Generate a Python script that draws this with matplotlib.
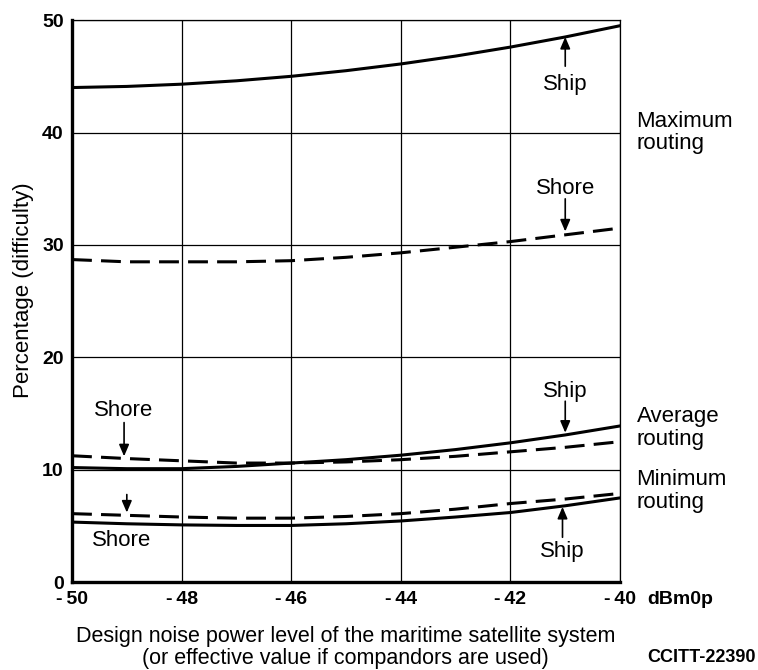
import matplotlib
matplotlib.use("Agg")
import matplotlib.pyplot as plt

# noise level (dBm0p)
noise = [-50, -49, -48, -47, -46, -45, -44, -43, -42, -41, -40]

# percentage difficulty
max_ship = [44.0, 44.1, 44.3, 44.6, 45.0, 45.5, 46.1, 46.8, 47.6, 48.5, 49.5]
max_shore = [28.7, 28.5, 28.5, 28.5, 28.6, 28.9, 29.3, 29.8, 30.3, 30.9, 31.5]
avg_ship = [10.2, 10.1, 10.1, 10.3, 10.6, 10.9, 11.3, 11.8, 12.4, 13.1, 13.9]
avg_shore = [11.25, 11.0, 10.8, 10.6, 10.6, 10.7, 10.9, 11.2, 11.6, 12.0, 12.5]
min_ship = [5.35, 5.2, 5.1, 5.05, 5.05, 5.2, 5.45, 5.8, 6.2, 6.8, 7.5]
min_shore = [6.1, 5.95, 5.8, 5.7, 5.7, 5.85, 6.1, 6.5, 7.0, 7.4, 7.9]

x_ticks = [-50, -48, -46, -44, -42, -40]
x_tick_labels = ["-\u200950", "-\u200948", "-\u200946", "-\u200944", "-\u200942", "-\u200940"]
y_ticks = [0, 10, 20, 30, 40, 50]
y_tick_labels = ["0", "10", "20", "30", "40", "50"]

# label text, position (x, y) for "Ship"/"Shore" tags and arrow start/end y
tags = [
    ("Ship", -41.0, 44.3, 45.9, 48.5),
    ("Shore", -41.0, 35.0, 34.1, 31.2),
    ("Ship", -41.0, 17.0, 16.1, 13.3),
    ("Ship", -41.05, 2.7, 4.0, 6.7),
    ("Shore", -49.05, 15.3, 14.2, 11.2),
]
routing_labels = [("Maximum\nrouting", 40.0), ("Average\nrouting", 13.7), ("Minimum\nrouting", 8.1)]

body_font = ["Liberation Sans", "DejaVu Sans"]
tick_font = {"family": ["Liberation Sans", "DejaVu Sans"], "weight": "bold", "size": 14}

fig = plt.figure(figsize=(7.58, 6.70), dpi=100)
ax = fig.add_axes([0.095, 0.131, 0.723, 0.839])

lw = 2.2
ax.plot(noise, max_ship, color="black", lw=lw)
ax.plot(noise, max_shore, color="black", lw=lw, dashes=(6.5, 3))
ax.plot(noise, avg_ship, color="black", lw=lw)
ax.plot(noise, avg_shore, color="black", lw=lw, dashes=(6.5, 3))
ax.plot(noise, min_ship, color="black", lw=lw)
ax.plot(noise, min_shore, color="black", lw=lw, dashes=(6.5, 3))

ax.set_xlim(-50, -40)
ax.set_ylim(0, 50)
ax.set_xticks(x_ticks)
ax.set_xticklabels(x_tick_labels, fontdict=tick_font)
ax.set_yticks(y_ticks)
ax.set_yticklabels(y_tick_labels, fontdict=tick_font)
ax.grid(True, color="black", lw=0.9)
ax.tick_params(axis="x", length=0, pad=6)
ax.tick_params(axis="y", length=0, pad=6)

for side in ["left", "bottom"]:
    ax.spines[side].set_linewidth(2.4)
for side in ["top", "right"]:
    ax.spines[side].set_linewidth(0.9)

ax.set_ylabel("Percentage (difficulty)", family=body_font, fontsize=16)
ax.yaxis.set_label_coords(-0.07, 0.52)

arrow = dict(arrowstyle="-|>,head_length=0.7,head_width=0.3",
             color="black", lw=1.2, shrinkA=0, shrinkB=0)

# tags with arrows
for text, tx, ty, y0, y1 in tags:
    ax.text(tx, ty, text, ha="center", va="center", family=body_font, fontsize=16)
    ax.annotate("", xy=(tx, y1), xytext=(tx, y0), arrowprops=arrow)

# small arrow for the minimum-routing shore curve, label below the solid line
ax.annotate("", xy=(-49.0, 6.2), xytext=(-49.0, 7.8), arrowprops=arrow)
ax.text(-49.1, 3.7, "Shore", ha="center", va="center", family=body_font, fontsize=16)

for text, yv in routing_labels:
    ax.text(-39.7, yv, text, ha="left", va="center", family=body_font,
            fontsize=16, linespacing=1.12, clip_on=False)

ax.text(-39.5, -1.55, "dBm0p", ha="left", va="center", fontdict=tick_font, clip_on=False)

fig.text(0.456, 0.034, "Design noise power level of the maritime satellite system\n"
         "(or effective value if compandors are used)",
         ha="center", va="center", family=body_font, fontsize=15.5, linespacing=1.05)
fig.text(0.925, 0.018, "CCITT-22390", ha="center", va="center",
         family=body_font, fontweight="bold", fontsize=13)

fig.savefig("out.png", dpi=100)
